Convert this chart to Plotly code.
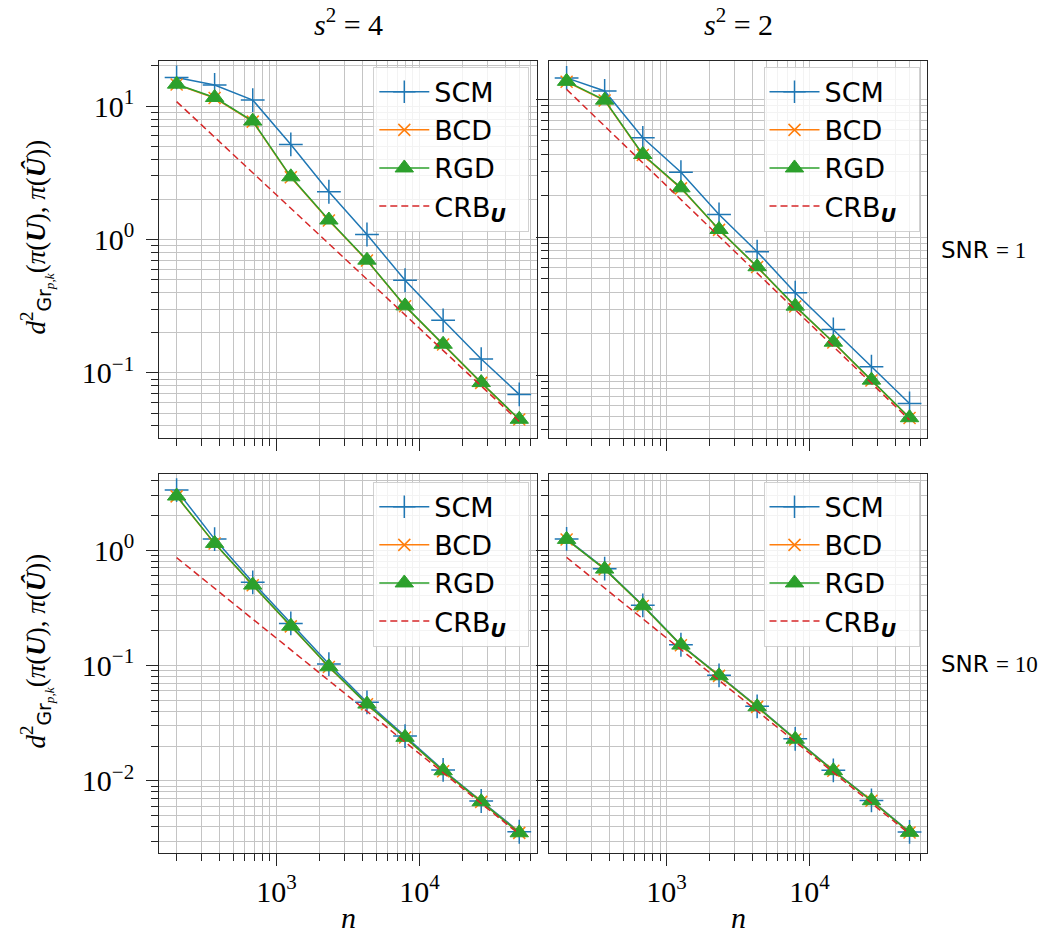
import plotly.graph_objects as go

W, H = 1056, 942

# ---------------- data ----------------
n = [200, 369, 682, 1260, 2327, 4298, 7937, 14660, 27076, 50000]

scm_tl = [16.4, 14.4, 11.1, 5.16, 2.28, 1.09, 0.495, 0.248, 0.127, 0.069]
bcd_tl = [14.5, 11.5, 7.65, 2.93, 1.39, 0.695, 0.316, 0.163, 0.0842, 0.0447]
rgd_tl = [14.6, 11.6, 7.72, 2.95, 1.40, 0.70, 0.318, 0.164, 0.0846, 0.0449]
crb_tl = [10.8, 5.85, 3.17, 1.71, 0.928, 0.503, 0.272, 0.147, 0.0797, 0.0432]

scm_tr = [14.3, 11.5, 5.26, 2.96, 1.46, 0.784, 0.395, 0.214, 0.115, 0.0622]
bcd_tr = [13.4, 9.80, 3.95, 2.26, 1.13, 0.607, 0.314, 0.172, 0.0913, 0.0488]
rgd_tr = [13.5, 9.86, 3.98, 2.28, 1.137, 0.61, 0.316, 0.173, 0.0918, 0.049]
crb_tr = [11.8, 6.39, 3.46, 1.87, 1.015, 0.549, 0.297, 0.161, 0.0872, 0.0472]

scm_bl = [3.31, 1.245, 0.525, 0.231, 0.1027, 0.0478, 0.0244, 0.0124, 0.00667, 0.00361]
bcd_bl = [2.92, 1.14, 0.495, 0.218, 0.0970, 0.0461, 0.0237, 0.0121, 0.00656, 0.00353]
rgd_bl = [2.94, 1.143, 0.497, 0.219, 0.0973, 0.0462, 0.0238, 0.0122, 0.00658, 0.00354]
crb_bl = [0.86, 0.466, 0.252, 0.1365, 0.0739, 0.040, 0.0217, 0.01173, 0.00635, 0.00344]

scm_br = [1.25, 0.69, 0.332, 0.151, 0.082, 0.0442, 0.0231, 0.01232, 0.00675, 0.0036]
bcd_br = [1.235, 0.682, 0.328, 0.1495, 0.0811, 0.0437, 0.0228, 0.0122, 0.0067, 0.00356]
rgd_br = [1.238, 0.684, 0.329, 0.150, 0.0813, 0.0438, 0.0229, 0.01222, 0.00671, 0.00357]
crb_br = [0.864, 0.468, 0.253, 0.137, 0.0742, 0.0402, 0.0218, 0.0118, 0.00638, 0.00346]

col_titles = ["<i>s</i><sup>2</sup> = 4", "<i>s</i><sup>2</sup> = 2"]
row_labels = ["SNR", "SNR"]
row_values = ["1", "10"]

x_major = [1e3, 1e4]
x_major_text = ["10<sup>3</sup>", "10<sup>4</sup>"]
x_minor = [m * d for d in (100, 1000, 10000) for m in range(2, 10)]

y_major_top = [0.1, 1, 10]
y_major_top_text = ["10<sup>−1</sup>", "10<sup>0</sup>", "10<sup>1</sup>"]
y_major_bot = [0.01, 0.1, 1]
y_major_bot_text = ["10<sup>−2</sup>", "10<sup>−1</sup>", "10<sup>0</sup>"]
y_minor = [m * d for d in (0.001, 0.01, 0.1, 1, 10) for m in range(2, 10)]

# ---------------- styling ----------------
C_SCM, C_BCD, C_RGD, C_CRB = "#1f77b4", "#ff7f0e", "#2ca02c", "#d62728"
SERIF = "Liberation Serif"
SANS = "DejaVu Sans"
AX = "#262626"
GRID = "#c4c4c4"
NB = "\u00a0\u00a0"

def px_x(p):
    return p / W

def px_y(p):
    return 1 - p / H

# panel pixel boxes
colx = [(159.3, 536.7), (549.3, 927.0)]
rowy = [(61.0, 438.0), (474.3, 852.7)]

xrange_log = [2.18, 4.821]
yranges = {(0, 0): [-1.488, 1.338], (0, 1): [-1.457, 1.278],
           (1, 0): [-2.624, 0.657], (1, 1): [-2.624, 0.657]}

panels = {
    (0, 0): (scm_tl, bcd_tl, rgd_tl, crb_tl),
    (0, 1): (scm_tr, bcd_tr, rgd_tr, crb_tr),
    (1, 0): (scm_bl, bcd_bl, rgd_bl, crb_bl),
    (1, 1): (scm_br, bcd_br, rgd_br, crb_br),
}

fig = go.Figure()
layout = dict(
    width=W, height=H, autosize=False,
    margin=dict(l=0, r=0, t=0, b=0),
    paper_bgcolor="white", plot_bgcolor="white",
    font=dict(family=SERIF, size=29, color="black"),
)

legend_names = ["legend", "legend2", "legend3", "legend4"]
legend_boxes = {(0, 0): (529.3, 66.7), (0, 1): (919.5, 66.7),
                (1, 0): (529.3, 481.7), (1, 1): (919.5, 481.7)}

idx = 0
for (r, c), (scm, bcd, rgd, crb) in panels.items():
    idx += 1
    sx = "" if idx == 1 else str(idx)
    xa, ya = "x" + sx, "y" + sx
    lg = legend_names[idx - 1]
    common = dict(xaxis=xa, yaxis=ya, legend=lg, x=n)
    fig.add_trace(go.Scatter(y=scm, name="SCM" + NB, mode="lines+markers",
                             line=dict(color=C_SCM, width=1.5),
                             marker=dict(symbol="cross-thin", size=17,
                                         color=C_SCM, line=dict(color=C_SCM, width=1.5)),
                             **common))
    fig.add_trace(go.Scatter(y=bcd, name="BCD" + NB, mode="lines+markers",
                             line=dict(color=C_BCD, width=1.5),
                             marker=dict(symbol="x-thin", size=12,
                                         color=C_BCD, line=dict(color=C_BCD, width=1.5)),
                             **common))
    fig.add_trace(go.Scatter(y=rgd, name="RGD" + NB, mode="lines+markers",
                             line=dict(color=C_RGD, width=1.5),
                             marker=dict(symbol="triangle-up", size=16,
                                         color=C_RGD, line=dict(color=C_RGD, width=1)),
                             **common))
    fig.add_trace(go.Scatter(y=crb, name="CRB<sub><b><i>U</i></b></sub>" + NB, mode="lines",
                             line=dict(color=C_CRB, width=1.5, dash="7px,4px"),
                             **common))

    x0, x1 = colx[c]
    y0, y1 = rowy[r]
    axis_common = dict(
        type="log", showline=True, linecolor=AX, linewidth=1.3, mirror=True,
        ticks="outside", ticklen=12, tickwidth=1.3, tickcolor=AX,
        showgrid=True, gridcolor=GRID, gridwidth=1.1, zeroline=False,
        tickfont=dict(family=SERIF, size=30, color="black"),
        tickmode="array",
    )
    layout["xaxis" + sx] = dict(
        axis_common, domain=[px_x(x0), px_x(x1)], range=xrange_log,
        anchor=ya, tickvals=x_major, ticktext=x_major_text,
        showticklabels=(r == 1),
        minor=dict(tickmode="array", tickvals=x_minor, ticks="outside", ticklen=7,
                   tickwidth=1.1, tickcolor=AX, showgrid=True,
                   gridcolor=GRID, gridwidth=1.1),
    )
    yt = y_major_top if r == 0 else y_major_bot
    ytt = y_major_top_text if r == 0 else y_major_bot_text
    layout["yaxis" + sx] = dict(
        axis_common, domain=[px_y(y1), px_y(y0)], range=yranges[(r, c)],
        anchor=xa, tickvals=yt, ticktext=ytt, ticklabelstandoff=6,
        showticklabels=(c == 0),
        minor=dict(tickmode="array", tickvals=y_minor, ticks="outside", ticklen=7,
                   tickwidth=1.1, tickcolor=AX, showgrid=True,
                   gridcolor=GRID, gridwidth=1.1),
    )
    lx, ly = legend_boxes[(r, c)]
    layout[lg] = dict(
        x=px_x(lx), y=px_y(ly), xanchor="right", yanchor="top",
        xref="paper", yref="paper",
        bgcolor="rgba(255,255,255,0.8)", bordercolor="rgba(204,204,204,0.9)",
        borderwidth=1, font=dict(family=SANS, size=27, color="black"),
        itemwidth=50, tracegroupgap=0,
    )

annotations = []
for c in range(2):
    cx = (colx[c][0] + colx[c][1]) / 2
    annotations.append(dict(text=col_titles[c], x=px_x(cx), y=px_y(22),
                            xref="paper", yref="paper", showarrow=False,
                            xanchor="center", yanchor="middle",
                            font=dict(family=SERIF, size=30, color="black")))
    annotations.append(dict(text="<i>n</i>", x=px_x(cx), y=px_y(917),
                            xref="paper", yref="paper", showarrow=False,
                            xanchor="center", yanchor="middle",
                            font=dict(family=SERIF, size=30, color="black")))

ytitle = ("<i>d</i><sup>2</sup><sub><span style='font-family:DejaVu Sans'>Gr</span>"
          "<sub><i>p,k</i></sub></sub>(<i>π</i>(<b><i>U</i></b>), <i>π</i>(<b><i>Û</i></b>))")
for r in range(2):
    cy = (rowy[r][0] + rowy[r][1]) / 2
    annotations.append(dict(text=ytitle, x=px_x(37), y=px_y(cy - 12),
                            xref="paper", yref="paper", showarrow=False,
                            textangle=-90, xanchor="center", yanchor="middle",
                            font=dict(family=SERIF, size=27, color="black")))
    annotations.append(dict(
        text=row_labels[r] + " <span style='font-family:Liberation Serif'>= " + row_values[r] + "</span>",
        x=px_x(939), y=px_y(cy), xref="paper", yref="paper", showarrow=False,
        xanchor="left", yanchor="middle",
        font=dict(family=SANS, size=23, color="black")))

layout["annotations"] = annotations
fig.update_layout(**layout)
fig.write_html("out.html", config={"displayModeBar": False},
               post_script="document.body.style.margin='0';document.body.style.overflow='hidden';")
